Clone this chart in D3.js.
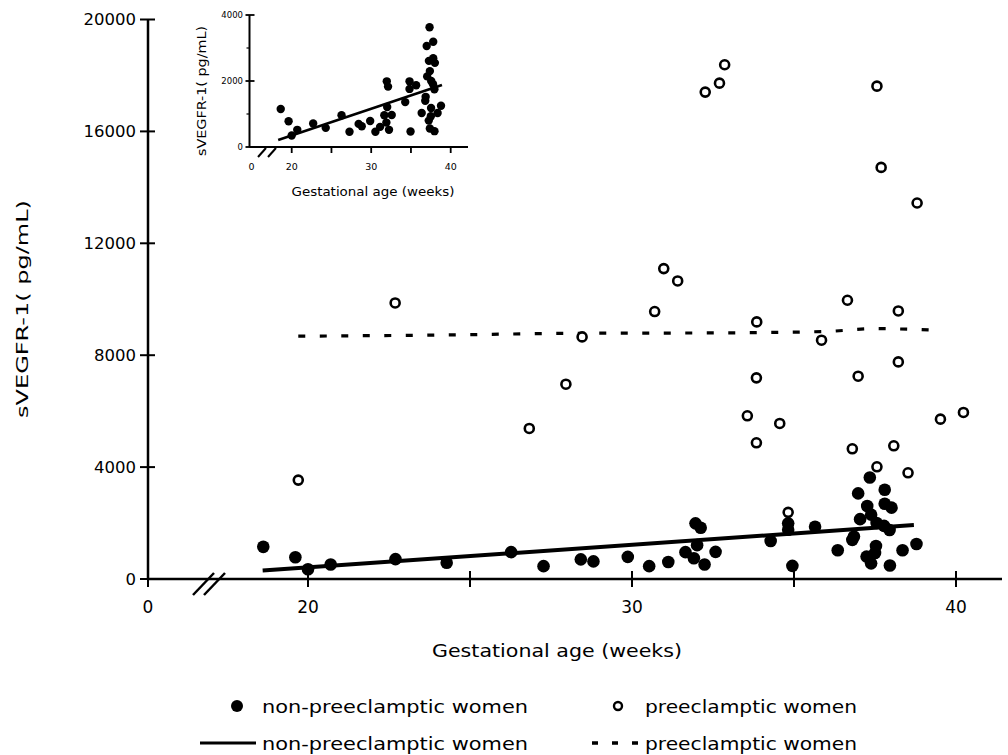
<!DOCTYPE html>
<html><head><meta charset="utf-8">
<script src="https://cdn.jsdelivr.net/npm/d3@7"></script>
<style>body{margin:0;background:#fff}svg{display:block}text{font-family:"DejaVu Sans",Verdana,sans-serif;fill:#000}</style>
</head><body>
<svg id="c" width="1008" height="755"></svg>
<script>
// ---- data ----
const nonPeWeeks = [18.62,19.61,20.00,20.70,22.70,24.28,26.27,27.27,28.42,28.81,29.87,30.53,31.12,31.65,31.96,32.12,32.01,31.91,32.24,32.58,34.28,34.82,34.82,34.95,35.65,36.35,36.80,36.85,36.98,37.34,37.80,37.26,37.80,38.01,37.04,37.38,37.55,37.78,37.95,37.53,37.50,37.24,37.38,38.35,38.78,37.96];
const nonPeValues = [1150,780,350,520,710,580,960,460,700,630,790,460,610,960,1990,1830,1210,740,520,970,1360,1990,1760,470,1870,1030,1400,1520,3060,3630,3190,2610,2690,2550,2140,2300,2000,1900,1750,1180,930,800,560,1030,1250,480];
const peWeeks = [19.70,22.69,26.83,27.96,28.46,30.70,30.98,31.41,32.26,32.70,32.86,33.56,33.84,33.84,33.85,34.56,34.82,35.85,36.65,36.80,36.98,37.56,37.56,37.69,38.08,38.22,38.22,38.52,38.80,39.52,40.23];
const peValues = [3536,9868,5382,6964,8654,9560,11096,10654,17404,17725,18382,5833,7190,4868,9190,5560,2382,8536,9964,4654,7250,17618,4011,14714,4762,9582,7761,3796,13440,5714,5954];
const nonPeFitWeeks = [18.6, 38.7];
const nonPeFitValues = [300, 1930];
const peFitWeeks = [19.7, 24, 28, 33, 36, 37.5, 39.6];
const peFitValues = [8680, 8720, 8780, 8800, 8850, 8950, 8880];
const insetFitWeeks = [18.3, 38.9];
const insetFitValues = [210, 1880];
const yTicksMain = [0,4000,8000,12000,16000,20000];
const xTicks = [20,25,30,35,40];
const xTickLabels = [20,30,40];
const yTicksInset = [0,2000,4000];
const yLabel = "sVEGFR-1( pg/mL)";
const xLabel = "Gestational age (weeks)";
const legendLabels = ["non-preeclamptic women","preeclamptic women"];

const svg = d3.select("#c");

// ---- main chart ----
const x = d3.scaleLinear().domain([20,40]).range([308,956]);
const x0 = 148; // broken-axis origin (0 weeks)
const y = d3.scaleLinear().domain([0,20000]).range([579,19.5]);

svg.append("line").attr("x1",x0).attr("x2",x0).attr("y1",y(0)).attr("y2",y(20000)).attr("stroke","#000").attr("stroke-width",2.5);
svg.append("line").attr("x1",x0).attr("x2",1002).attr("y1",y(0)).attr("y2",y(0)).attr("stroke","#000").attr("stroke-width",2.5);
svg.selectAll(".yt").data(yTicksMain).join("line").attr("x1",x0-8).attr("x2",x0+7)
  .attr("y1",d=>y(d)).attr("y2",d=>y(d)).attr("stroke","#000").attr("stroke-width",2);
svg.selectAll(".ytl").data(yTicksMain).join("text").attr("x",136).attr("y",d=>y(d)).attr("dy","0.36em")
  .attr("text-anchor","end").attr("font-size",16.5).text(d=>d);
svg.selectAll(".xt").data(xTicks).join("line").attr("x1",d=>x(d)).attr("x2",d=>x(d))
  .attr("y1",y(0)-8).attr("y2",y(0)+8).attr("stroke","#000").attr("stroke-width",2);
svg.append("line").attr("x1",x0).attr("x2",x0).attr("y1",y(0)-8).attr("y2",y(0)+8).attr("stroke","#000").attr("stroke-width",2);
svg.selectAll(".xtl").data(xTickLabels).join("text").attr("x",d=>x(d)).attr("y",613)
  .attr("text-anchor","middle").attr("font-size",17).text(d=>d);
svg.append("text").attr("x",x0).attr("y",613).attr("text-anchor","middle").attr("font-size",17).text("0");
[0,11].forEach(o=>svg.append("line").attr("x1",193+o).attr("y1",595).attr("x2",214+o).attr("y2",573)
  .attr("stroke","#000").attr("stroke-width",2.5));
svg.append("text").attr("x",557).attr("y",657).attr("text-anchor","middle").attr("font-size",18.5)
  .attr("textLength",250).attr("lengthAdjust","spacingAndGlyphs").text(xLabel);
svg.append("text").attr("transform","translate(28,309) rotate(-90)").attr("text-anchor","middle").attr("font-size",16.5)
  .attr("textLength",218).attr("lengthAdjust","spacingAndGlyphs").text(yLabel);

const line = d3.line().x(d=>x(d[0])).y(d=>y(d[1]));
svg.append("path").attr("d",line(d3.zip(nonPeFitWeeks,nonPeFitValues))).attr("fill","none").attr("stroke","#000").attr("stroke-width",4);
svg.append("path").attr("d",d3.line().curve(d3.curveMonotoneX).x(d=>x(d[0])).y(d=>y(d[1]))(d3.zip(peFitWeeks,peFitValues)))
  .attr("fill","none").attr("stroke","#000").attr("stroke-width",3.2).attr("stroke-dasharray","7,14.5");

svg.selectAll(".np").data(d3.zip(nonPeWeeks,nonPeValues)).join("circle")
  .attr("cx",d=>x(d[0])).attr("cy",d=>y(d[1])).attr("r",6.3).attr("fill","#000");
svg.selectAll(".pp").data(d3.zip(peWeeks,peValues)).join("circle")
  .attr("cx",d=>x(d[0])).attr("cy",d=>y(d[1])).attr("r",4.5).attr("fill","#fff").attr("stroke","#000").attr("stroke-width",2.6);

// ---- inset ----
const xi = d3.scaleLinear().domain([20,40]).range([291.7,450.7]);
const xi0 = 249.5;
const yi = d3.scaleLinear().domain([0,4000]).range([147,15]);
const gi = svg.append("g");
gi.append("line").attr("x1",xi0).attr("x2",xi0).attr("y1",yi(0)).attr("y2",yi(4000)).attr("stroke","#000").attr("stroke-width",2);
gi.append("line").attr("x1",xi0).attr("x2",468).attr("y1",yi(0)).attr("y2",yi(0)).attr("stroke","#000").attr("stroke-width",2);
gi.selectAll(".yti").data(yTicksInset).join("line").attr("x1",xi0-4).attr("x2",xi0+5)
  .attr("y1",d=>yi(d)).attr("y2",d=>yi(d)).attr("stroke","#000").attr("stroke-width",1.8);
gi.selectAll(".yti2").data([1000,3000]).join("line").attr("x1",xi0-3).attr("x2",xi0)
  .attr("y1",d=>yi(d)).attr("y2",d=>yi(d)).attr("stroke","#000").attr("stroke-width",1.2);
gi.selectAll(".ytli").data(yTicksInset).join("text").attr("x",243).attr("y",d=>yi(d)).attr("dy","0.36em")
  .attr("text-anchor","end").attr("font-size",8.5).text(d=>d);
gi.selectAll(".xti").data(xTicks).join("line").attr("x1",d=>xi(d)).attr("x2",d=>xi(d))
  .attr("y1",yi(0)-1).attr("y2",yi(0)+6).attr("stroke","#000").attr("stroke-width",1.8);
gi.selectAll(".xtli").data(xTickLabels).join("text").attr("x",d=>xi(d)).attr("y",170)
  .attr("text-anchor","middle").attr("font-size",9.5).text(d=>d);
gi.append("text").attr("x",xi0+2).attr("y",170).attr("text-anchor","middle").attr("font-size",9.5).text("0");
[0,10].forEach(o=>gi.append("line").attr("x1",258+o).attr("y1",157).attr("x2",266+o).attr("y2",148)
  .attr("stroke","#000").attr("stroke-width",2));
gi.append("text").attr("x",373).attr("y",196).attr("text-anchor","middle").attr("font-size",12.5)
  .attr("textLength",163).attr("lengthAdjust","spacingAndGlyphs").text(xLabel);
gi.append("text").attr("transform","translate(206,91) rotate(-90)").attr("text-anchor","middle").attr("font-size",12.5)
  .attr("textLength",130).attr("lengthAdjust","spacingAndGlyphs").text(yLabel);
gi.selectAll(".ip").data(d3.zip(nonPeWeeks,nonPeValues)).join("circle")
  .attr("cx",d=>xi(d[0])).attr("cy",d=>yi(d[1])).attr("r",4.2).attr("fill","#000");
gi.append("path").attr("d",d3.line().x(d=>xi(d[0])).y(d=>yi(d[1]))(d3.zip(insetFitWeeks,insetFitValues)))
  .attr("fill","none").attr("stroke","#000").attr("stroke-width",2.6);

// ---- legend ----
const lg = svg.append("g");
lg.append("circle").attr("cx",237).attr("cy",706).attr("r",6).attr("fill","#000");
lg.append("text").attr("x",262).attr("y",706).attr("dy","0.36em").attr("font-size",18.5)
  .attr("textLength",266).attr("lengthAdjust","spacingAndGlyphs").text(legendLabels[0]);
lg.append("circle").attr("cx",618).attr("cy",706).attr("r",4).attr("fill","#fff").attr("stroke","#000").attr("stroke-width",2.4);
lg.append("text").attr("x",645).attr("y",706).attr("dy","0.36em").attr("font-size",18.5)
  .attr("textLength",212).attr("lengthAdjust","spacingAndGlyphs").text(legendLabels[1]);
lg.append("line").attr("x1",200).attr("x2",256).attr("y1",743).attr("y2",743).attr("stroke","#000").attr("stroke-width",3);
lg.append("text").attr("x",262).attr("y",743).attr("dy","0.36em").attr("font-size",18.5)
  .attr("textLength",266).attr("lengthAdjust","spacingAndGlyphs").text(legendLabels[0]);
lg.append("line").attr("x1",592).attr("x2",638).attr("y1",743).attr("y2",743).attr("stroke","#000").attr("stroke-width",3.5).attr("stroke-dasharray","6,14");
lg.append("text").attr("x",645).attr("y",743).attr("dy","0.36em").attr("font-size",18.5)
  .attr("textLength",212).attr("lengthAdjust","spacingAndGlyphs").text(legendLabels[1]);
</script>
</body></html>
